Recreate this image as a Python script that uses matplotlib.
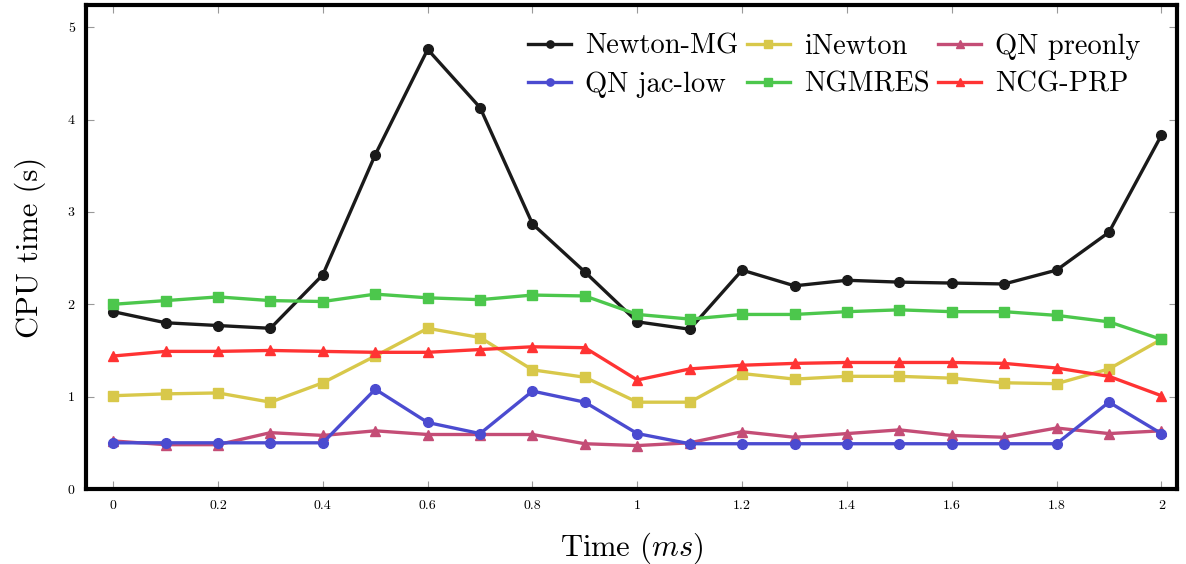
import matplotlib
matplotlib.use('Agg')
import matplotlib.pyplot as plt

# data
x = [0, 0.1, 0.2, 0.3, 0.4, 0.5, 0.6, 0.7, 0.8, 0.9, 1.0,
     1.1, 1.2, 1.3, 1.4, 1.5, 1.6, 1.7, 1.8, 1.9, 2.0]
newton_mg = [1.92, 1.80, 1.77, 1.74, 2.32, 3.62, 4.76, 4.13, 2.87, 2.35, 1.81,
             1.73, 2.37, 2.20, 2.26, 2.24, 2.23, 2.22, 2.37, 2.78, 3.83]
inewton = [1.01, 1.03, 1.04, 0.94, 1.15, 1.44, 1.74, 1.64, 1.29, 1.21, 0.94,
           0.94, 1.25, 1.19, 1.22, 1.22, 1.20, 1.15, 1.14, 1.30, 1.62]
qn_preonly = [0.52, 0.48, 0.48, 0.61, 0.58, 0.63, 0.59, 0.59, 0.59, 0.49, 0.47,
              0.50, 0.62, 0.56, 0.60, 0.64, 0.58, 0.56, 0.66, 0.60, 0.63]
qn_jac_low = [0.50, 0.50, 0.50, 0.50, 0.50, 1.08, 0.72, 0.60, 1.06, 0.94, 0.60,
              0.49, 0.49, 0.49, 0.49, 0.49, 0.49, 0.49, 0.49, 0.94, 0.60]
ngmres = [2.00, 2.04, 2.08, 2.04, 2.03, 2.11, 2.07, 2.05, 2.10, 2.09, 1.89,
          1.84, 1.89, 1.89, 1.92, 1.94, 1.92, 1.92, 1.88, 1.81, 1.62]
ncg_prp = [1.44, 1.49, 1.49, 1.50, 1.49, 1.48, 1.48, 1.51, 1.54, 1.53, 1.18,
           1.30, 1.34, 1.36, 1.37, 1.37, 1.37, 1.36, 1.31, 1.22, 1.01]

xticks = [0, 0.2, 0.4, 0.6, 0.8, 1, 1.2, 1.4, 1.6, 1.8, 2]
xtick_labels = ['0', '0.2', '0.4', '0.6', '0.8', '1', '1.2', '1.4', '1.6', '1.8', '2']
yticks = [0, 1, 2, 3, 4, 5]

plt.rcParams['font.family'] = 'serif'
plt.rcParams['font.serif'] = ['cmr10', 'DejaVu Serif']
plt.rcParams['mathtext.fontset'] = 'cm'
plt.rcParams['axes.unicode_minus'] = False


def main():
    fig = plt.figure(figsize=(11.86, 5.64), dpi=100)
    ax = fig.add_axes([0.0725, 0.133, 0.92, 0.858])

    series = [
        (newton_mg, 'Newton-MG', '#1a1a1a', 'o', 7),
        (inewton, 'iNewton', '#d8c84a', 's', 7),
        (qn_preonly, 'QN preonly', '#c44d76', '^', 7),
        (qn_jac_low, 'QN jac-low', '#4b4bd0', 'o', 7),
        (ngmres, 'NGMRES', '#4cc74c', 's', 7),
        (ncg_prp, 'NCG-PRP', '#ff3333', '^', 7),
    ]
    order = [3, 2, 1, 4, 5, 0]
    lines = {}
    for i in order:
        y, name, col, mk, ms = series[i]
        ln, = ax.plot(x, y, color=col, marker=mk, markersize=ms, linewidth=2.4,
                      label=name, zorder=3 + i)
        lines[i] = ln

    ax.set_xlim(-0.052, 2.03)
    ax.set_ylim(0, 5.24)
    ax.set_xticks(xticks)
    ax.set_xticklabels(xtick_labels)
    ax.set_yticks(yticks)

    for sp in ax.spines.values():
        sp.set_linewidth(3)
    ax.tick_params(direction='in', length=6, width=0.8, color='#999999',
                   top=True, right=True, labelsize=10, pad=8)

    ax.set_xlabel('Time $(ms)$', fontsize=22, labelpad=13)
    ax.set_ylabel('CPU time (s)', fontsize=22, labelpad=16)

    # legend fills column-wise, so reorder to get the reference rows
    leg_order = [0, 3, 1, 4, 2, 5]
    ax.legend(handles=[lines[i] for i in leg_order],
              labels=[series[i][1] for i in leg_order], ncol=3,
              loc='upper right', bbox_to_anchor=(0.99, 0.995), frameon=False,
              fontsize=20.5, handlelength=1.5, handletextpad=0.5,
              columnspacing=0.3, labelspacing=0.42, markerscale=0.75)

    plt.savefig('out.png', dpi=100)


if __name__ == '__main__':
    main()
